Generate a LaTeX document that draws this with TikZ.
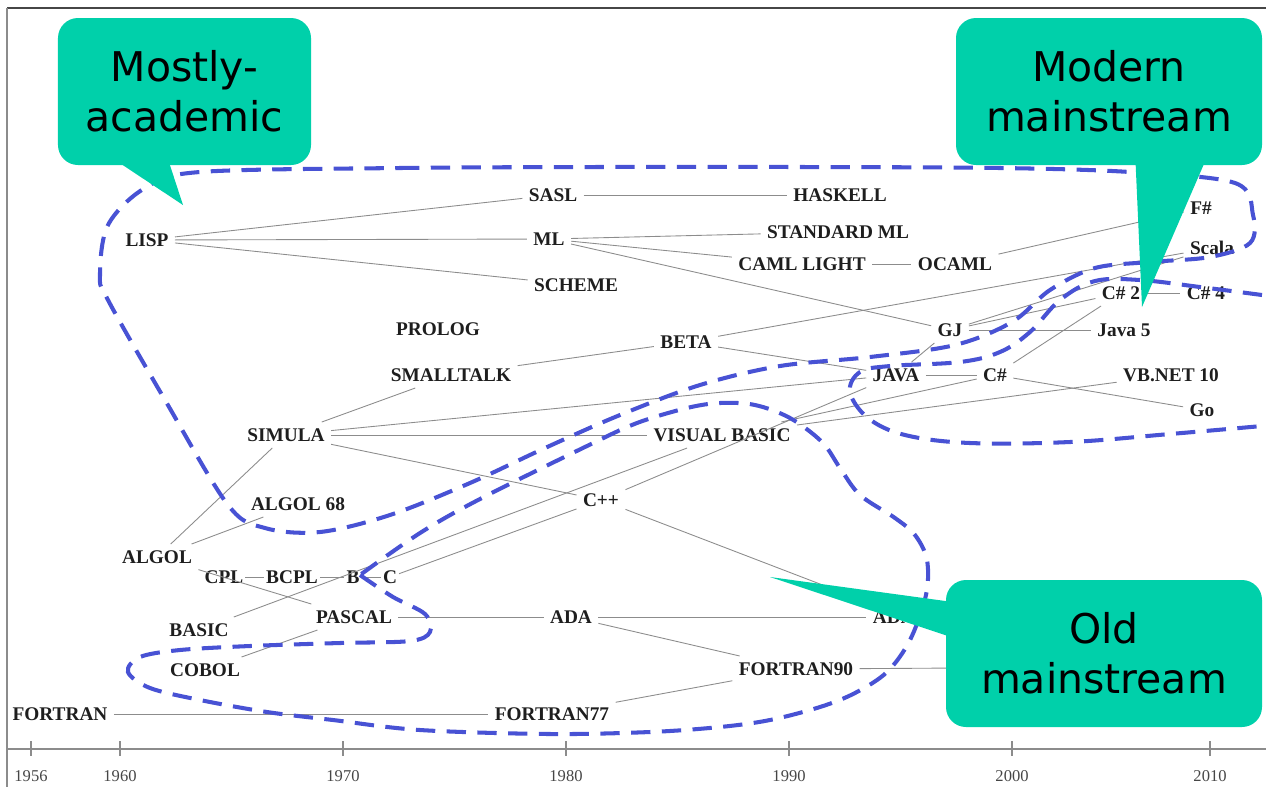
\documentclass[tikz,border=0pt]{standalone}
\usepackage{fontspec}
\setmainfont{Liberation Serif}
\newfontfamily\bubblefont{DejaVu Sans}
\definecolor{blobblue}{RGB}{72,82,212}
\definecolor{bubblegreen}{RGB}{0,208,170}
\definecolor{linkgray}{RGB}{140,140,140}
\definecolor{inkgray}{RGB}{30,30,30}
\definecolor{framegray}{RGB}{70,70,70}

\tikzset{
  lang/.style={inner sep=3.5pt, text=inkgray, font=\fontsize{11}{13}\selectfont\bfseries},
  link/.style={draw=linkgray, line width=0.5pt},
  blob/.style={draw=blobblue, line width=2.3pt, dash pattern=on 11pt off 6.5pt},
  bubble/.style={fill=bubblegreen, rounded corners=4mm, minimum height=29.4mm, align=center,
    text=black, font=\bubblefont\fontsize{23.3}{28.5}\selectfont},
  yearlabel/.style={text=framegray, font=\fontsize{9.4}{11}\selectfont}
}

\begin{document}
\begin{tikzpicture}[x=0.2mm, y=-0.2mm]
		\useasboundingbox (0,0) rectangle (1266,787);
		% frame and time axis
		\draw[framegray, line width=1.6pt] (7,8) -- (1266,8);
		\draw[linkgray, line width=0.6pt] (7,8) -- (7,787);
		\draw[linkgray, line width=0.6pt] (7,749) -- (1266,749);
		\foreach \px/\yr in {31/1956,120/1960,343/1970,566/1980,789/1990,1012/2000,1210/2010}{
			\draw[linkgray, line width=0.6pt] (\px,741) -- (\px,756);
			\node[yearlabel] (yr\yr) at (\px,776) {\yr};
		}
		% languages
		\node[lang] (lisp) at (147,240) {LISP};
		\node[lang] (sasl) at (553,195) {SASL};
		\node[lang] (haskell) at (840,195) {HASKELL};
		\node[lang] (ml) at (549,239) {ML};
		\node[lang] (sml) at (838,232) {STANDARD ML};
		\node[lang] (caml) at (802,264) {CAML LIGHT};
		\node[lang] (ocaml) at (955,264) {OCAML};
		\node[lang] (scheme) at (576,285) {SCHEME};
		\node[lang] (prolog) at (438,329) {PROLOG};
		\node[lang] (beta) at (686,342) {BETA};
		\node[lang] (smalltalk) at (451,375) {SMALLTALK};
		\node[lang] (gj) at (950,330) {GJ};
		\node[lang] (javafive) at (1124,330) {Java 5};
		\node[lang] (java) at (896,375) {JAVA};
		\node[lang] (csharp) at (995,375) {C\#};
		\node[lang] (vbnet) at (1171,375) {VB.NET 10};
		\node[lang] (golang) at (1202,410) {Go};
		\node[lang] (fsharp) at (1201,208) {F\#};
		\node[lang] (scala) at (1212,248) {Scala};
		\node[lang] (csharptwo) at (1121,293) {C\# 2};
		\node[lang] (csharpfour) at (1206,293) {C\# 4};
		\node[lang] (simula) at (286,435) {SIMULA};
		\node[lang] (vbasic) at (722,435) {VISUAL BASIC};
		\node[lang] (algolsixtyeight) at (298,504) {ALGOL 68};
		\node[lang] (cpp) at (601,500) {C++};
		\node[lang] (algol) at (157,557) {ALGOL};
		\node[lang, inner xsep=1pt] (cpl) at (224,577) {CPL};
		\node[lang, inner xsep=1pt] (bcpl) at (292,577) {BCPL};
		\node[lang, inner xsep=1pt] (blang) at (353,577) {B};
		\node[lang, inner xsep=1pt] (clang) at (390,577) {C};
		\node[lang] (basic) at (199,630) {BASIC};
		\node[lang] (pascal) at (354,617) {PASCAL};
		\node[lang] (ada) at (571,617) {ADA};
		\node[lang] (adanew) at (906,617) {ADA 95};
		\node[lang] (cobol) at (205,670) {COBOL};
		\node[lang] (fortran) at (60,714) {FORTRAN};
		\node[lang] (fortranseven) at (552,714) {FORTRAN77};
		\node[lang] (fortrannine) at (796,669) {FORTRAN90};
		\coordinate (fortrannext) at (960,668);
		% influences
		\foreach \a/\b in {lisp/sasl,lisp/ml,lisp/scheme,sasl/haskell,ml/sml,ml/caml,ml/gj,
			caml/ocaml,ocaml/fsharp,beta/scala,beta/java,smalltalk/beta,simula/smalltalk,
			simula/java,simula/vbasic,simula/cpp,algol/simula,algol/algolsixtyeight,algol/pascal,
			cpl/bcpl,bcpl/blang,blang/clang,clang/cpp,basic/vbasic,cobol/pascal,pascal/ada,
			ada/adanew,ada/fortrannine,fortranseven/fortrannine,fortran/fortranseven,
			cpp/java,cpp/adanew,vbasic/csharp,vbasic/vbnet,java/csharp,java/gj,gj/javafive,
			gj/csharptwo,gj/scala,csharp/csharptwo,csharp/golang,csharptwo/csharpfour,
			fortrannine/fortrannext}{
			\draw[link] (\a) -- (\b);
		}
		% groupings
		\draw[blob] plot[smooth cycle, tension=0.55] coordinates {(200,172) (400,168) (600,167)
			(800,167) (1000,168) (1130,172) (1235,183) (1253,215) (1250,243) (1210,257) (1150,262)
			(1095,268) (1050,290) (1012,322) (955,345) (870,357) (780,366) (700,385) (620,415)
			(545,448) (470,483) (390,515) (320,532) (265,528) (228,505) (165,400) (108,300)
			(100,275) (108,225) (145,188)};
		\draw[blob] plot[smooth, tension=0.6] coordinates {(1262,295) (1200,287) (1140,280)
			(1095,281) (1060,300) (1030,332) (1000,352) (960,362) (890,366) (860,372) (850,392)
			(868,418) (905,435) (970,443) (1070,442) (1170,434) (1262,426)};
		\draw[blob] plot[smooth, tension=0.55] coordinates {(360,575) (393,597) (425,614) (430,632)
			(410,641) (340,643) (250,646) (180,650) (140,657) (128,672) (150,688) (200,700)
			(267,712) (333,720) (420,730) (550,734) (650,732) (720,727) (770,720) (820,707)
			(855,693) (887,672) (910,640) (926,595) (927,560) (915,535) (895,518) (860,495)
			(840,468) (822,442) (790,418) (755,405) (720,403) (687,408) (637,423) (587,446)
			(480,499) (420,533) (360,575)};
		% call-outs
		\fill[bubblegreen] (100,150) -- (183,205) -- (165,150) -- cycle;
		\node[bubble, minimum width=50.6mm] (academic) at (184.5,91.5) {Mostly-\\academic};
		\fill[bubblegreen] (1135,150) -- (1142,307) -- (1210,150) -- cycle;
		\node[bubble, minimum width=61.2mm] (modern) at (1109,91.5) {Modern\\mainstream};
		\fill[bubblegreen] (960,603) -- (770,577) -- (960,640) -- cycle;
		\node[bubble, minimum width=63.2mm] (oldmain) at (1104,653.5) {Old\\mainstream};
\end{tikzpicture}
\end{document}
